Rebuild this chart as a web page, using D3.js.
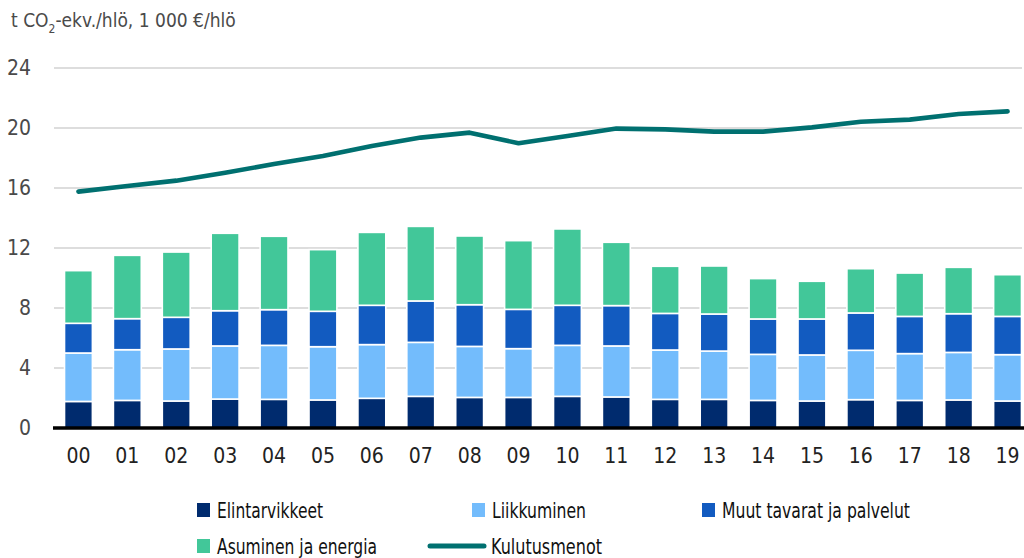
<!DOCTYPE html>
<html>
<head>
<meta charset="utf-8">
<script src="https://cdn.jsdelivr.net/npm/d3@7"></script>
<style>
  body { margin: 0; background: #fff; }
  svg { display: block; }
  svg text { font-family: "DejaVu Sans", sans-serif; font-stretch: condensed; }
</style>
</head>
<body>
<svg id="chart"></svg>
<script>
const years = ["00", "01", "02", "03", "04", "05", "06", "07", "08", "09",
               "10", "11", "12", "13", "14", "15", "16", "17", "18", "19"];
const elintarvikkeet = [1.77, 1.84, 1.80, 1.93, 1.91, 1.87, 1.98, 2.11, 2.04, 2.04,
                        2.11, 2.07, 1.91, 1.91, 1.84, 1.80, 1.89, 1.84, 1.87, 1.80];
const liikkuminen = [3.23, 3.38, 3.47, 3.54, 3.60, 3.55, 3.58, 3.60, 3.40, 3.25,
                     3.40, 3.40, 3.29, 3.22, 3.07, 3.07, 3.29, 3.12, 3.17, 3.09];
const muutTavarat = [1.98, 2.07, 2.11, 2.35, 2.38, 2.36, 2.62, 2.76, 2.78, 2.62,
                     2.67, 2.69, 2.44, 2.47, 2.36, 2.40, 2.49, 2.48, 2.58, 2.55];
const asuminen = [3.51, 4.22, 4.35, 5.16, 4.89, 4.11, 4.86, 4.97, 4.58, 4.58,
                  5.09, 4.22, 3.14, 3.20, 2.69, 2.51, 2.95, 2.89, 3.09, 2.78];
const kulutusmenot = [15.76, 16.13, 16.49, 17.02, 17.60, 18.13, 18.80, 19.36, 19.69, 18.98,
                      19.47, 19.96, 19.91, 19.76, 19.76, 20.04, 20.42, 20.56, 20.93, 21.11];
const yTicks = [0, 4, 8, 12, 16, 20, 24];

const seriesKeys = ["elin", "liik", "muut", "asum"];
const seriesLabels = ["Elintarvikkeet", "Liikkuminen", "Muut tavarat ja palvelut", "Asuminen ja energia"];
const seriesColors = ["#002b6e", "#73bcfc", "#125bc0", "#42c799"];
const lineLabel = "Kulutusmenot";
const lineColor = "#007070";

function main() {
    const width = 1024;
    const height = 558;

    const svg = d3.select("#chart").attr("width", width).attr("height", height);

    const x = d3.scaleBand().domain(years).range([54, 1032])
        .paddingInner(0.43).paddingOuter(0.215);
    const y = d3.scaleLinear().domain([0, 24]).range([428, 68]);

    // title
    const title = svg.append("text")
        .attr("x", 11).attr("y", 27)
        .attr("fill", "#4a4a4a").style("font-size", "19px");
    title.append("tspan").text("t CO");
    title.append("tspan").attr("dy", 6).style("font-size", "12px").text("2");
    title.append("tspan").attr("dy", -6).text("-ekv./hlö, 1 000 €/hlö");

    // grid
    svg.append("g").selectAll("line")
        .data(yTicks.filter(d => d > 0))
        .join("line")
        .attr("x1", 54).attr("x2", 1022)
        .attr("y1", d => y(d)).attr("y2", d => y(d))
        .attr("stroke", "#dddddd").attr("stroke-width", 2);

    // y labels
    const yAxis = d3.axisLeft(y).tickValues(yTicks).tickSize(0).tickPadding(0);
    const gy = svg.append("g").attr("transform", "translate(31,0)").call(yAxis);
    gy.select(".domain").remove();
    gy.attr("font-family", null);
    gy.selectAll("text")
        .attr("fill", "#4a4a4a")
        .style("font-size", "21px");

    // stacked bars
    const rows = years.map((yr, i) => ({
        year: yr,
        elin: elintarvikkeet[i],
        liik: liikkuminen[i],
        muut: muutTavarat[i],
        asum: asuminen[i]
    }));
    const stacked = d3.stack().keys(seriesKeys)(rows);

    svg.append("g").selectAll("g")
        .data(stacked)
        .join("g")
        .attr("fill", (d, i) => seriesColors[i])
        .selectAll("rect")
        .data(d => d)
        .join("rect")
        .attr("x", d => x(d.data.year))
        .attr("width", x.bandwidth())
        .attr("y", d => y(d[1]))
        .attr("height", d => y(d[0]) - y(d[1]))
        .attr("stroke", "#ffffff")
        .attr("stroke-width", 1.6);

    // baseline + x labels
    const xAxis = d3.axisBottom(x).tickSize(0).tickPadding(0);
    const gx = svg.append("g").attr("transform", "translate(0," + y(0) + ")").call(xAxis);
    gx.select(".domain").remove();
    gx.attr("font-family", null);
    gx.selectAll("text")
        .attr("dy", "1.65em")
        .attr("fill", "#222")
        .style("font-size", "21px");
    svg.append("line")
        .attr("x1", 53).attr("x2", 1024)
        .attr("y1", y(0)).attr("y2", y(0))
        .attr("stroke", "#000").attr("stroke-width", 3.5);

    // line
    const line = d3.line()
        .x((d, i) => x(years[i]) + x.bandwidth() / 2)
        .y(d => y(d));
    svg.append("path")
        .datum(kulutusmenot)
        .attr("d", line)
        .attr("fill", "none")
        .attr("stroke", lineColor)
        .attr("stroke-width", 4.6)
        .attr("stroke-linecap", "round")
        .attr("stroke-linejoin", "round");

    // legend
    const legendItems = [
        { label: seriesLabels[0], color: seriesColors[0], type: "box", lx: 197, ly: 510, w: 106 },
        { label: seriesLabels[1], color: seriesColors[1], type: "box", lx: 472, ly: 510, w: 94 },
        { label: seriesLabels[2], color: seriesColors[2], type: "box", lx: 702, ly: 510, w: 188 },
        { label: seriesLabels[3], color: seriesColors[3], type: "box", lx: 197, ly: 546, w: 160 },
        { label: lineLabel, color: lineColor, type: "line", lx: 430, ly: 546, w: 111 }
    ];
    const lg = svg.append("g").selectAll("g")
        .data(legendItems)
        .join("g")
        .attr("transform", d => "translate(" + d.lx + "," + d.ly + ")");
    lg.filter(d => d.type === "box").append("rect")
        .attr("x", 0).attr("y", -7).attr("width", 13).attr("height", 14)
        .attr("fill", d => d.color);
    lg.filter(d => d.type === "line").append("line")
        .attr("x1", 0).attr("x2", 54).attr("y1", 0).attr("y2", 0)
        .attr("stroke", d => d.color).attr("stroke-width", 5)
        .attr("stroke-linecap", "round");
    lg.append("text")
        .attr("x", d => d.type === "box" ? 20 : 61)
        .attr("y", 8)
        .attr("fill", "#111")
        .style("font-size", "21px")
        .text(d => d.label)
        .each(function (d) { fitWidth(d3.select(this), d.w); });
}

function fitWidth(sel, w) {
    const node = sel.node();
    if (node.getComputedTextLength() > w) {
        sel.attr("textLength", w).attr("lengthAdjust", "spacingAndGlyphs");
    }
}

main();
</script>
</body>
</html>
